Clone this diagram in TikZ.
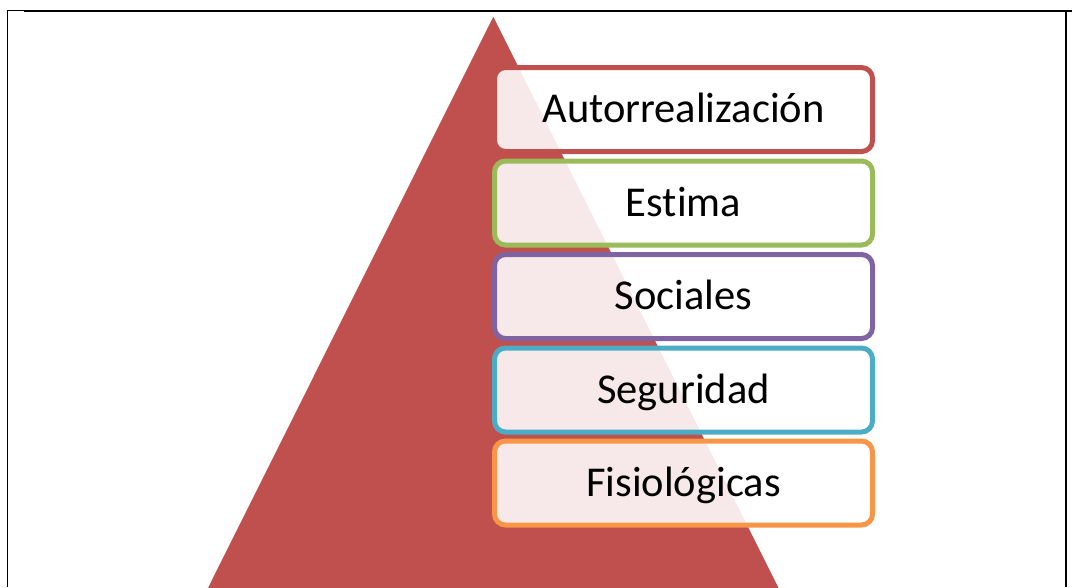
\documentclass[tikz,border=0pt]{standalone}
\usepackage{fontspec}
\setmainfont{Carlito}[RawFeature=-liga]
\begin{document}
\begin{tikzpicture}[x=1pt,y=-1pt,
  level/.style={draw=#1, line width=5pt, rounded corners=11pt, fill=white, fill opacity=0.88, text opacity=1,
    minimum width=378pt, minimum height=84pt, inner sep=0pt, text height=26.5pt, text depth=0pt,
    font=\fontsize{42.5}{50}\selectfont},
  frame/.style={black, line width=1.6pt}]
\useasboundingbox (0,0) rectangle (1072,587);
\definecolor{cred}{HTML}{C0504D}
\definecolor{cgreen}{HTML}{9BBB59}
\definecolor{cpurple}{HTML}{8064A2}
\definecolor{cteal}{HTML}{4BACC6}
\definecolor{corange}{HTML}{F79646}
\begin{scope}
\clip (0,0) rectangle (1072,587);
\fill[cred] (493.3,16.7) -- (207,590) -- (779.5,590) -- cycle;
\end{scope}
\node[level=cred]    (n1) at (683.5,109.5) {Autorrealización};
\node[level=cgreen]  (n2) at (683.5,203)   {Estima};
\node[level=cpurple] (n3) at (683.5,296.5) {Sociales};
\node[level=cteal]   (n4) at (683.5,390)   {Seguridad};
\node[level=corange] (n5) at (683.5,483)   {Fisiológicas};
\draw[frame] (7.5,587) -- (7.5,10.5) -- (1072,10.5);
\draw[line width=2.2pt] (24,11) -- (1072,11);
\draw[frame] (1065.8,10.5) -- (1065.8,587);
\end{tikzpicture}
\end{document}
